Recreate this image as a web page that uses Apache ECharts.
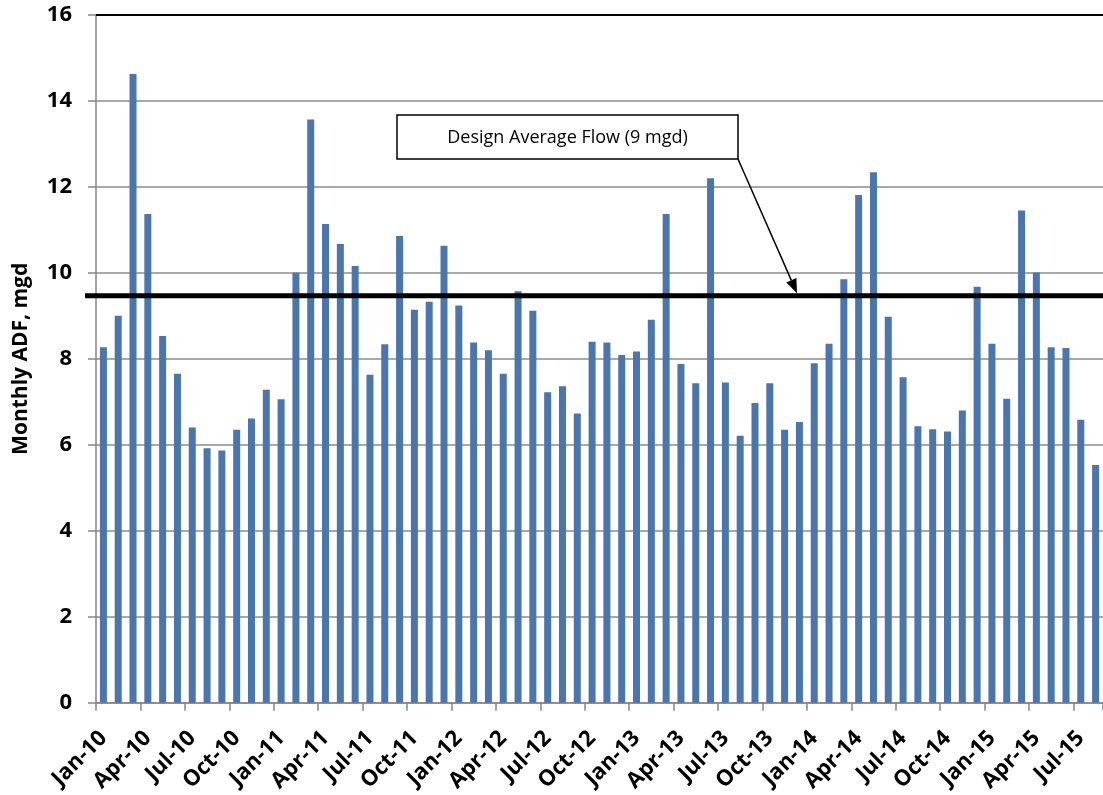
<!DOCTYPE html>
<html>
<head>
<meta charset="utf-8">
<title>Monthly ADF</title>
<script src="https://cdn.jsdelivr.net/npm/echarts@6/dist/echarts.min.js"></script>
<style>
  html, body { margin: 0; padding: 0; background: #ffffff; }
  #chart { width: 1103px; height: 795px; }
</style>
</head>
<body>
<div id="chart"></div>
<script>
// Monthly average daily flow, Jan 2010 - Aug 2015
const months = [
  'Jan-10','Feb-10','Mar-10','Apr-10','May-10','Jun-10','Jul-10','Aug-10','Sep-10','Oct-10','Nov-10','Dec-10',
  'Jan-11','Feb-11','Mar-11','Apr-11','May-11','Jun-11','Jul-11','Aug-11','Sep-11','Oct-11','Nov-11','Dec-11',
  'Jan-12','Feb-12','Mar-12','Apr-12','May-12','Jun-12','Jul-12','Aug-12','Sep-12','Oct-12','Nov-12','Dec-12',
  'Jan-13','Feb-13','Mar-13','Apr-13','May-13','Jun-13','Jul-13','Aug-13','Sep-13','Oct-13','Nov-13','Dec-13',
  'Jan-14','Feb-14','Mar-14','Apr-14','May-14','Jun-14','Jul-14','Aug-14','Sep-14','Oct-14','Nov-14','Dec-14',
  'Jan-15','Feb-15','Mar-15','Apr-15','May-15','Jun-15','Jul-15','Aug-15'
];

const monthlyADF = [
  8.27, 9.00, 14.63, 11.37, 8.53, 7.65, 6.40, 5.92, 5.87, 6.35, 6.61, 7.28,
  7.06, 10.00, 13.57, 11.14, 10.67, 10.16, 7.63, 8.34, 10.86, 9.14, 9.33, 10.63,
  9.24, 8.38, 8.20, 7.65, 9.57, 9.12, 7.22, 7.36, 6.73, 8.40, 8.38, 8.09,
  8.17, 8.91, 11.37, 7.88, 7.43, 12.20, 7.45, 6.21, 6.97, 7.43, 6.35, 6.53,
  7.90, 8.35, 9.85, 11.81, 12.34, 8.98, 7.57, 6.43, 6.36, 6.31, 6.80, 9.68,
  8.35, 7.07, 11.45, 10.01, 8.27, 8.25, 6.58, 5.53
];

// value axis ticks
const yTicks = { min: 0, max: 16, step: 2 };

// level of the heavy reference line and its callout text
const designLineLevel = 9.47;
const designLabel = 'Design Average Flow (9 mgd)';

const FONT = '"Open Sans", "DejaVu Sans", sans-serif';
const AXIS_GRAY = '#868686';
const GRID_LEFT = 96;

const chart = echarts.init(document.getElementById('chart'), null, { renderer: 'canvas' });

chart.setOption({
  animation: false,
  backgroundColor: '#ffffff',
  grid: { left: GRID_LEFT, right: -4, top: 15, bottom: 92, containLabel: false },
  xAxis: {
    type: 'category',
    data: months,
    boundaryGap: true,
    axisLine: { show: true, lineStyle: { color: AXIS_GRAY, width: 1.5 } },
    axisTick: { show: true, interval: 2, length: 8, alignWithLabel: false,
                lineStyle: { color: AXIS_GRAY, width: 1.5 } },
    axisLabel: {
      interval: 2, rotate: 45, margin: 32,
      fontFamily: FONT, fontWeight: 'bold', fontSize: 22, color: '#000000'
    },
    splitLine: { show: false }
  },
  yAxis: {
    type: 'value',
    min: yTicks.min, max: yTicks.max, interval: yTicks.step,
    name: 'Monthly ADF, mgd',
    nameLocation: 'middle',
    nameRotate: 90,
    nameGap: 64,
    nameTextStyle: { fontFamily: FONT, fontWeight: 'bold', fontSize: 21, color: '#000000' },
    axisLine: { show: true, lineStyle: { color: AXIS_GRAY, width: 1.5 } },
    axisTick: { show: true, inside: false, length: 8, lineStyle: { color: AXIS_GRAY, width: 1.5 } },
    axisLabel: { margin: 24, fontFamily: FONT, fontWeight: 'bold', fontSize: 22, color: '#000000' },
    splitLine: { show: true, lineStyle: { color: '#8c8c8c', width: 1.5 } }
  },
  series: [{
    type: 'bar',
    name: 'Monthly ADF',
    data: monthlyADF,
    barWidth: 7,
    itemStyle: { color: '#4a76ad' },
    markLine: {
      silent: true,
      symbol: ['none', 'none'],
      label: { show: false },
      lineStyle: { color: '#000000', width: 2, type: 'solid' },
      data: [{ yAxis: yTicks.max }]
    }
  }]
});

// Heavy reference line, callout box and arrow, positioned from the value axis
const lineY = chart.convertToPixel({ yAxisIndex: 0 }, designLineLevel);
const lineW = 5;
const box = { x: 397, y: 115, w: 341, h: 44 };
const arrowStart = [box.x + box.w, box.y + box.h];
const arrowTip = [797, lineY - lineW / 2];
const dx = arrowTip[0] - arrowStart[0];
const dy = arrowTip[1] - arrowStart[1];
const len = Math.sqrt(dx * dx + dy * dy);
const ux = dx / len, uy = dy / len;
const headLen = 14, headHalf = 5.5;
const baseX = arrowTip[0] - ux * headLen, baseY = arrowTip[1] - uy * headLen;

chart.setOption({
  graphic: [
    {
      type: 'line', z: 100,
      shape: { x1: GRID_LEFT - 11, y1: lineY, x2: 1103, y2: lineY },
      style: { stroke: '#000000', lineWidth: lineW }
    },
    {
      type: 'rect', z: 100,
      shape: { x: box.x, y: box.y, width: box.w, height: box.h },
      style: { fill: '#ffffff', stroke: '#000000', lineWidth: 1.5 }
    },
    {
      type: 'text', z: 101,
      style: {
        text: designLabel,
        x: box.x + box.w / 2, y: box.y + box.h / 2 + 1,
        textAlign: 'center', textVerticalAlign: 'middle',
        font: '18px ' + FONT, fill: '#000000'
      }
    },
    {
      type: 'line', z: 100,
      shape: { x1: arrowStart[0], y1: arrowStart[1], x2: baseX, y2: baseY },
      style: { stroke: '#000000', lineWidth: 1.5 }
    },
    {
      type: 'polygon', z: 100,
      shape: {
        points: [
          arrowTip,
          [baseX - uy * headHalf, baseY + ux * headHalf],
          [baseX + uy * headHalf, baseY - ux * headHalf]
        ]
      },
      style: { fill: '#000000' }
    }
  ]
});
</script>
</body>
</html>
